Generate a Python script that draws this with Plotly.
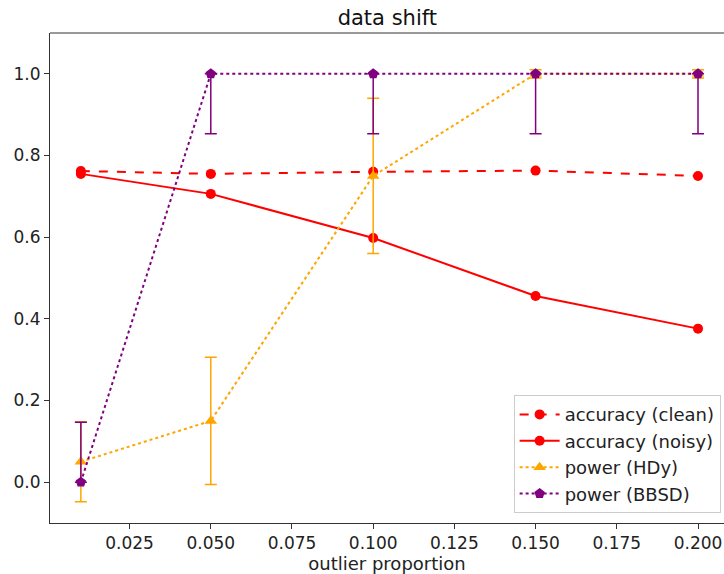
import plotly.graph_objects as go

# outlier proportions
proportions = [0.01, 0.05, 0.10, 0.15, 0.20]

acc_clean = [0.762, 0.755, 0.760, 0.763, 0.750]
acc_noisy = [0.755, 0.706, 0.598, 0.456, 0.376]

power_hdy = [0.05, 0.15, 0.75, 1.0, 1.0]
power_hdy_err = [0.098, 0.156, 0.19, 0.01, 0.01]

power_bbsd = [0.0, 1.0, 1.0, 1.0, 1.0]
power_bbsd_err_plus = [0.147, 0.0, 0.0, 0.0, 0.0]
power_bbsd_err_minus = [0.0, 0.147, 0.147, 0.147, 0.147]

x_ticks = [0.025, 0.05, 0.075, 0.1, 0.125, 0.15, 0.175, 0.2]
y_ticks = [0.0, 0.2, 0.4, 0.6, 0.8, 1.0]

RED = "#ff0000"
ORANGE = "#ffa500"
PURPLE = "#800080"

fig = go.Figure()
fig.add_trace(go.Scatter(
    x=proportions, y=acc_clean, name="accuracy (clean)",
    mode="lines+markers", line=dict(color=RED, width=2, dash="dash"),
    marker=dict(symbol="circle", size=10, color=RED),
))
fig.add_trace(go.Scatter(
    x=proportions, y=acc_noisy, name="accuracy (noisy)",
    mode="lines+markers", line=dict(color=RED, width=2),
    marker=dict(symbol="circle", size=10, color=RED),
))
fig.add_trace(go.Scatter(
    x=proportions, y=power_hdy, name="power (HDy)",
    mode="lines+markers", line=dict(color=ORANGE, width=2, dash="dot"),
    marker=dict(symbol="triangle-up", size=11, color=ORANGE),
    error_y=dict(type="data", array=power_hdy_err, color=ORANGE,
                 thickness=1.5, width=6),
))
fig.add_trace(go.Scatter(
    x=proportions, y=power_bbsd, name="power (BBSD)",
    mode="lines+markers", line=dict(color=PURPLE, width=2, dash="dot"),
    marker=dict(symbol="pentagon", size=11, color=PURPLE),
    error_y=dict(type="data", symmetric=False, array=power_bbsd_err_plus,
                 arrayminus=power_bbsd_err_minus, color=PURPLE,
                 thickness=1.5, width=6),
))

axis_style = dict(
    showgrid=False, zeroline=False, showline=True, linecolor="#333333",
    linewidth=1, ticks="outside", ticklen=5, tickcolor="#333333",
    tickfont=dict(size=17, color="#222222"), automargin=False,
)

fig.update_layout(
    width=724, height=574,
    margin=dict(l=50, r=0, t=33, b=51),
    paper_bgcolor="white", plot_bgcolor="white",
    font=dict(family="DejaVu Sans", color="#222222"),
    title=dict(text="data shift", x=0.535, xanchor="center", y=0.969,
               yanchor="middle", font=dict(size=21, color="#111111")),
    xaxis=dict(range=[0.0005, 0.208], tickmode="array", tickvals=x_ticks,
               tickformat=".3f", mirror=False,
               title=dict(text="outlier proportion", font=dict(size=18), standoff=2),
               **axis_style),
    yaxis=dict(range=[-0.1, 1.1], tickmode="array", tickvals=y_ticks,
               tickformat=".1f", **axis_style),
    legend=dict(x=0.995, y=0.02, xanchor="right", yanchor="bottom",
                bgcolor="rgba(255,255,255,0.85)", bordercolor="#cccccc",
                borderwidth=1, font=dict(size=18, color="#222222"),
                itemwidth=40, tracegroupgap=0),
)
# top spine
fig.add_shape(type="line", xref="paper", yref="paper", x0=0, x1=1, y0=1, y1=1,
              line=dict(color="#333333", width=1))

# drop the default page margin so the figure fills the window exactly
fig.write_html("out.html", config={"displayModeBar": False},
               post_script="document.body.style.margin='0';document.body.style.overflow='hidden';")
